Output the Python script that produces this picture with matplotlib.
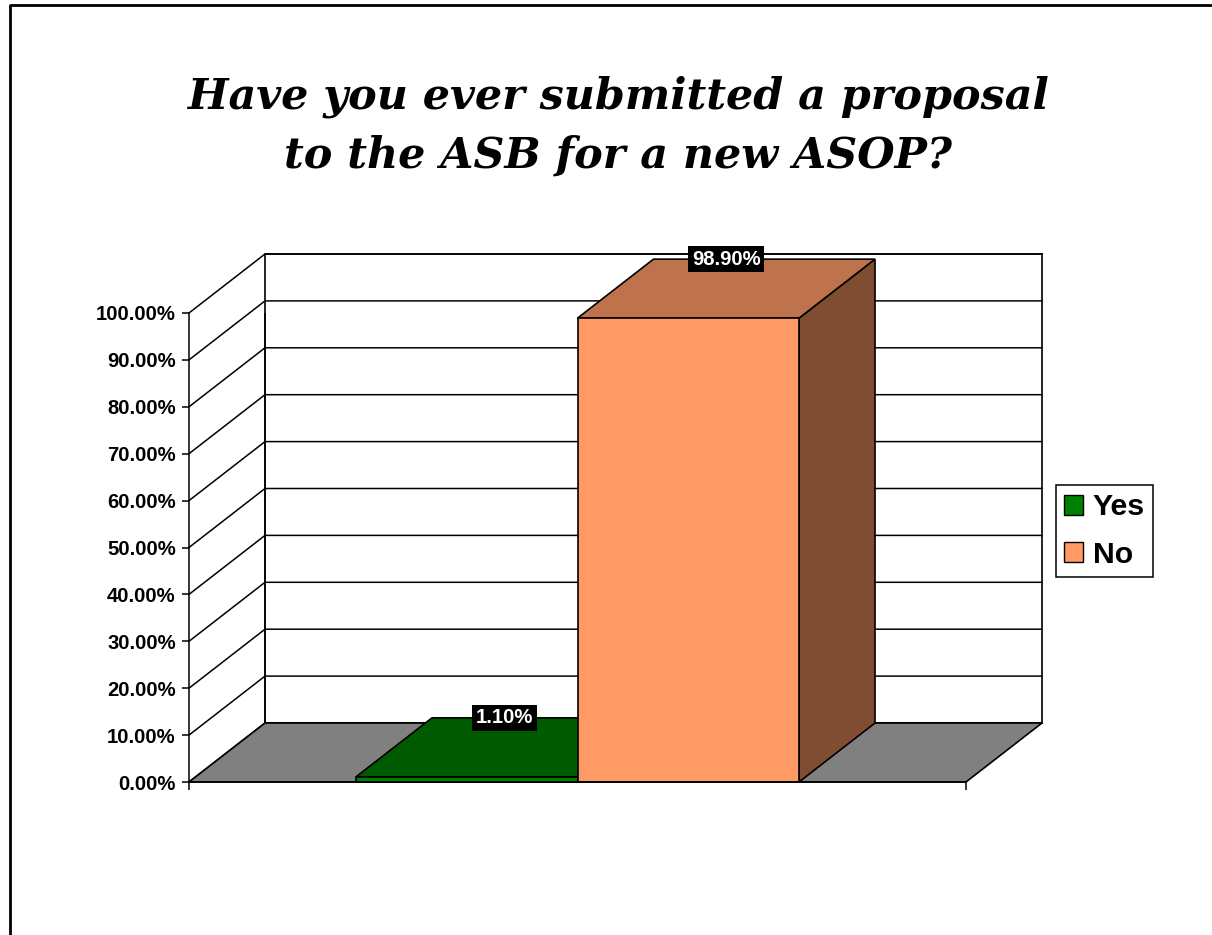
import matplotlib
matplotlib.use("Agg")
import matplotlib.pyplot as plt
from matplotlib.lines import Line2D
from matplotlib.patches import Patch, Polygon

# Data
title = "Have you ever submitted a proposal\nto the ASB for a new ASOP?"
series = ["Yes", "No"]
values = [1.10, 98.90]
front_colors = ["#008000", "#FF9966"]
top_colors = ["#005A00", "#BF734D"]
side_colors = ["#004000", "#804D33"]
y_ticks = [0, 10, 20, 30, 40, 50, 60, 70, 80, 90, 100]

# 3D look: how far the back wall is shifted, in data units
depth_x = 76 / 777
depth_y = 59 / 4.69
bar_w = 221.5 / 777

W, H = 1212, 935
fig = plt.figure(figsize=(W / 100, H / 100), dpi=100)
ax = fig.add_axes([189 / W, (H - 782) / H, 777 / W, 469 / H])
ax.set_xlim(-0.5, 0.5)
ax.set_ylim(0, 100)
ax.patch.set_visible(False)

x0, x1 = ax.get_xlim()
y_top = y_ticks[-1]


def face(points, color, z):
    ax.add_patch(Polygon(points, closed=True, facecolor=color, edgecolor="black",
                         lw=1.2, joinstyle="miter", zorder=z, clip_on=False))


# walls and gridlines
face([(x0 + depth_x, depth_y), (x1 + depth_x, depth_y),
      (x1 + depth_x, y_top + depth_y), (x0 + depth_x, y_top + depth_y)], "white", 1)
for t in y_ticks:
    ax.plot([x0, x0 + depth_x, x1 + depth_x], [t, t + depth_y, t + depth_y],
            color="black", lw=1.1, zorder=2, clip_on=False)
ax.plot([x0 + depth_x, x0 + depth_x], [depth_y, y_top + depth_y], color="black", lw=1.1, zorder=2)

# floor
face([(x0, 0), (x1, 0), (x1 + depth_x, depth_y), (x0 + depth_x, depth_y)], "#808080", 3)

# bars
left = -bar_w
for i, (name, v) in enumerate(zip(series, values)):
    r = left + bar_w
    z = 4 + i
    face([(r, 0), (r + depth_x, depth_y), (r + depth_x, v + depth_y), (r, v)], side_colors[i], z)
    face([(left, v), (r, v), (r + depth_x, v + depth_y), (left + depth_x, v + depth_y)], top_colors[i], z)
    face([(left, 0), (r, 0), (r, v), (left, v)], front_colors[i], z)
    ax.text(left + bar_w / 2 + depth_x / 2, v + depth_y, f"{v:.2f}%", color="white",
            family="Liberation Sans", fontweight="bold", fontsize=14.6, ha="center", va="center",
            zorder=10, bbox=dict(facecolor="black", edgecolor="none", pad=2.6))
    left = r

# axes
for s in ["top", "right"]:
    ax.spines[s].set_visible(False)
ax.spines["left"].set_linewidth(1.1)
ax.spines["bottom"].set_linewidth(1.1)
ax.spines["left"].set_zorder(9)
ax.spines["bottom"].set_zorder(9)
ax.set_yticks(y_ticks)
ax.set_yticklabels([f"{t:.2f}%" for t in y_ticks], family="Liberation Sans",
                   fontweight="bold", fontsize=14.6)
ax.set_xticks([x0, x1])
ax.set_xticklabels([])
ax.tick_params(axis="y", length=5, width=1.1, pad=4.5)
ax.tick_params(axis="x", length=6, width=1.1)

# title
fig.text(618 / W, 1 - 126 / H, title, ha="center", va="center", family="DejaVu Serif",
         style="italic", fontweight="bold", fontsize=30.9, linespacing=1.48)

# legend
handles = [Patch(facecolor=c, edgecolor="black", label=n) for c, n in zip(front_colors, series)]
leg = fig.legend(handles=handles, loc="center", bbox_to_anchor=(1104.5 / W, 1 - 531 / H),
                 prop={"family": "Liberation Sans", "weight": "bold", "size": 21.8},
                 fancybox=False, framealpha=1, edgecolor="black", handlelength=0.63,
                 handleheight=0.63, handletextpad=0.33, labelspacing=0.64,
                 borderpad=0.27, borderaxespad=0)
leg.get_frame().set_linewidth(1.1)

# slide border
fig.add_artist(Line2D([10 / W, 10 / W, 1], [0, 1 - 5 / H, 1 - 5 / H], color="black", lw=2))

fig.savefig("out.png", dpi=100)
